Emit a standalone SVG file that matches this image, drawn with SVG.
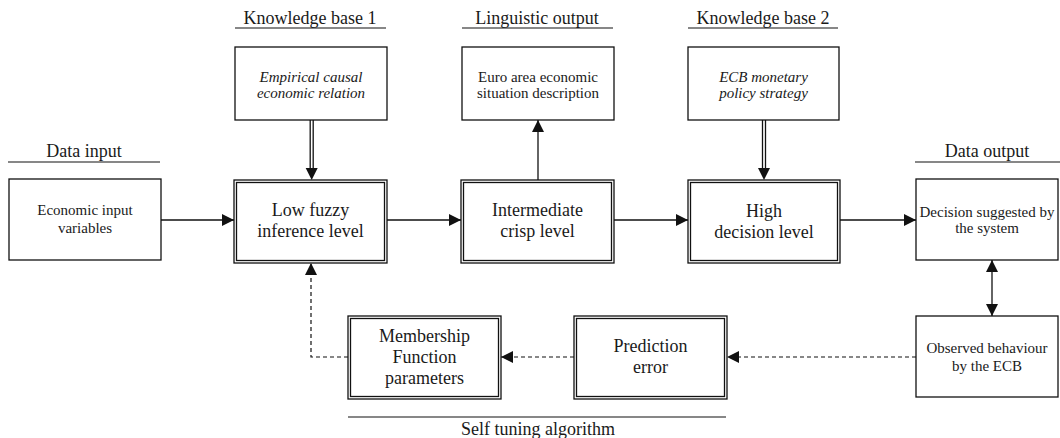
<svg xmlns="http://www.w3.org/2000/svg" width="1060" height="438" viewBox="0 0 1060 438">
<defs>
<style>
.t{font-family:"Liberation Serif","Times New Roman",serif;fill:#1a1a1a;text-anchor:middle}
.h{font-size:18px}
.b{font-size:18px}
.s{font-size:15px}
.i{font-style:italic}
.box{fill:#fff;stroke:#111;stroke-width:1.3}
.ln{stroke:#111;stroke-width:1.3;fill:none}
.ds{stroke:#111;stroke-width:1.2;fill:none;stroke-dasharray:4 3}
.ul{stroke:#111;stroke-width:1.2}
</style>
<marker id="ah" viewBox="0 0 12 12" refX="12" refY="6" markerWidth="12" markerHeight="12" markerUnits="userSpaceOnUse" orient="auto-start-reverse">
<path d="M0,0 L12,6 L0,12 z" fill="#111"/>
</marker>
</defs>
<rect width="1060" height="438" fill="#fff"/>

<g id="headers">
<text class="t h" x="84" y="157">Data input</text>
<line class="ul" x1="8" y1="162" x2="160" y2="162"/>
<text class="t h" x="310" y="24">Knowledge base 1</text>
<line class="ul" x1="235" y1="28" x2="386" y2="28"/>
<text class="t h" x="537" y="24">Linguistic output</text>
<line class="ul" x1="462" y1="28" x2="613" y2="28"/>
<text class="t h" x="763" y="24">Knowledge base 2</text>
<line class="ul" x1="688" y1="28" x2="838" y2="28"/>
<text class="t h" x="987" y="157">Data output</text>
<line class="ul" x1="915" y1="162" x2="1060" y2="162"/>
<line class="ul" x1="348" y1="417" x2="726" y2="417"/>
<text class="t h" x="538" y="435">Self tuning algorithm</text>
</g>

<g id="connectors">
<line class="ln" x1="161" y1="220" x2="234" y2="220" marker-end="url(#ah)"/>
<line class="ln" x1="387" y1="220" x2="461" y2="220" marker-end="url(#ah)"/>
<line class="ln" x1="614" y1="220" x2="688" y2="220" marker-end="url(#ah)"/>
<line class="ln" x1="840" y1="220" x2="916" y2="220" marker-end="url(#ah)"/>
<line class="ln" x1="538" y1="180" x2="538" y2="120" marker-end="url(#ah)"/>
<line class="ln" x1="310.2" y1="120" x2="310.2" y2="170"/>
<line class="ln" x1="313.2" y1="120" x2="313.2" y2="170"/>
<path d="M305.7,168 L317.7,168 L311.7,180 z" fill="#111"/>
<line class="ln" x1="762.5" y1="120" x2="762.5" y2="170"/>
<line class="ln" x1="765.5" y1="120" x2="765.5" y2="170"/>
<path d="M758,168 L770,168 L764,180 z" fill="#111"/>
<line class="ln" x1="992" y1="260" x2="992" y2="316" marker-start="url(#ah)" marker-end="url(#ah)"/>
<line class="ds" x1="916" y1="357" x2="727" y2="357" marker-end="url(#ah)"/>
<line class="ds" x1="574" y1="357" x2="501" y2="357" marker-end="url(#ah)"/>
<polyline class="ds" points="348,357 311,357 311,263" marker-end="url(#ah)"/>
</g>

<g id="economic-input">
<rect class="box" x="9" y="179" width="152" height="81"/>
<text class="t s" x="85" y="215">Economic input</text>
<text class="t s" x="85" y="233">variables</text>
</g>

<g id="empirical">
<rect class="box" x="235" y="47" width="152" height="73"/>
<text class="t s i" x="311" y="82">Empirical causal</text>
<text class="t s i" x="311" y="98">economic relation</text>
</g>

<g id="low-fuzzy">
<rect class="box" x="234" y="180" width="153" height="83"/>
<rect class="box" x="236.5" y="182.5" width="148" height="78"/>
<text class="t b" x="310.5" y="216">Low fuzzy</text>
<text class="t b" x="310.5" y="237">inference level</text>
</g>

<g id="euro-area">
<rect class="box" x="462" y="47" width="152" height="73"/>
<text class="t s" x="538" y="82">Euro area economic</text>
<text class="t s" x="538" y="98">situation description</text>
</g>

<g id="intermediate">
<rect class="box" x="461" y="180" width="153" height="83"/>
<rect class="box" x="463.5" y="182.5" width="148" height="78"/>
<text class="t b" x="537.5" y="216">Intermediate</text>
<text class="t b" x="537.5" y="237">crisp level</text>
</g>

<g id="ecb-strategy">
<rect class="box" x="688" y="47" width="151" height="73"/>
<text class="t s i" x="763.5" y="82">ECB monetary</text>
<text class="t s i" x="763.5" y="98">policy strategy</text>
</g>

<g id="high-decision">
<rect class="box" x="688" y="180" width="152" height="83"/>
<rect class="box" x="690.5" y="182.5" width="147" height="78"/>
<text class="t b" x="764" y="217">High</text>
<text class="t b" x="764" y="238">decision level</text>
</g>

<g id="decision-suggested">
<rect class="box" x="916" y="179" width="142" height="81"/>
<text class="t s" x="987" y="217">Decision suggested by</text>
<text class="t s" x="987" y="233">the system</text>
</g>

<g id="observed">
<rect class="box" x="916" y="316" width="142" height="81"/>
<text class="t s" x="987" y="353">Observed behaviour</text>
<text class="t s" x="987" y="371">by the ECB</text>
</g>

<g id="prediction-error">
<rect class="box" x="574" y="316" width="153" height="83"/>
<rect class="box" x="576.5" y="318.5" width="148" height="78"/>
<text class="t b" x="650.5" y="352">Prediction</text>
<text class="t b" x="650.5" y="373">error</text>
</g>

<g id="membership">
<rect class="box" x="348" y="316" width="153" height="83"/>
<rect class="box" x="350.5" y="318.5" width="148" height="78"/>
<text class="t b" x="424.5" y="342">Membership</text>
<text class="t b" x="424.5" y="363">Function</text>
<text class="t b" x="424.5" y="384">parameters</text>
</g>
</svg>
